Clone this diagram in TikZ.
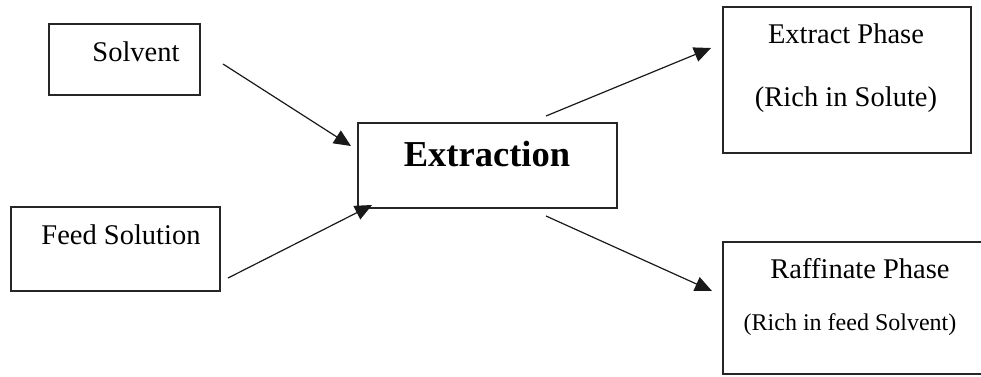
\documentclass[tikz,border=0pt]{standalone}
\usepackage{fontspec}
\setmainfont{Liberation Serif}
\usetikzlibrary{arrows.meta}
\begin{document}
\begin{tikzpicture}[x=1pt,y=-1pt,
  box/.style={draw=black!85, line width=1.1pt, minimum width=#1, inner sep=0pt},
  lbl/.style={anchor=base, inner sep=0pt, font=\fontsize{28.5}{34}\selectfont},
  smalllbl/.style={anchor=base, inner sep=0pt, font=\fontsize{24}{29}\selectfont},
  biglbl/.style={anchor=base, inner sep=0pt, font=\fontsize{36.5}{44}\selectfont\bfseries},
  flow/.style={line width=1.2pt, black!90, -{Triangle[length=17pt,width=15pt]}}]
\useasboundingbox (0,0) rectangle (981,376);
\clip (0,0) rectangle (981,376);
% boxes
\node[box=151pt, minimum height=71pt] (solventbox) at (124.5,59.5) {};
\node[box=209pt, minimum height=84pt] (feedbox) at (115.5,249) {};
\node[box=259pt, minimum height=85pt] (extractionbox) at (487.5,165.5) {};
\node[box=248pt, minimum height=146pt] (extractbox) at (847,80) {};
\node[box=262pt, minimum height=132pt] (raffinatebox) at (854,308) {};
% texts
\node[lbl] (solvent) at (136,61) {Solvent};
\node[lbl] (feed) at (121,244) {Feed Solution};
\node[biglbl] (extraction) at (487,166) {Extraction};
\node[lbl] (extract) at (846,43) {Extract Phase};
\node[lbl] (solute) at (846,106) {(Rich in Solute)};
\node[lbl] (raffinate) at (860,278) {Raffinate Phase};
\node[smalllbl] (feedsolv) at (850,330) {(Rich in feed Solvent)};
% connector end points
\coordinate (s1) at (223,64);  \coordinate (e1) at (351,146);
\coordinate (s2) at (228,278); \coordinate (e2) at (372,205);
\coordinate (s3) at (546,116); \coordinate (e3) at (711,48);
\coordinate (s4) at (546,216); \coordinate (e4) at (712,291);
\draw[flow] (s1) -- (e1);
\draw[flow] (s2) -- (e2);
\draw[flow] (s3) -- (e3);
\draw[flow] (s4) -- (e4);
\end{tikzpicture}
\end{document}
